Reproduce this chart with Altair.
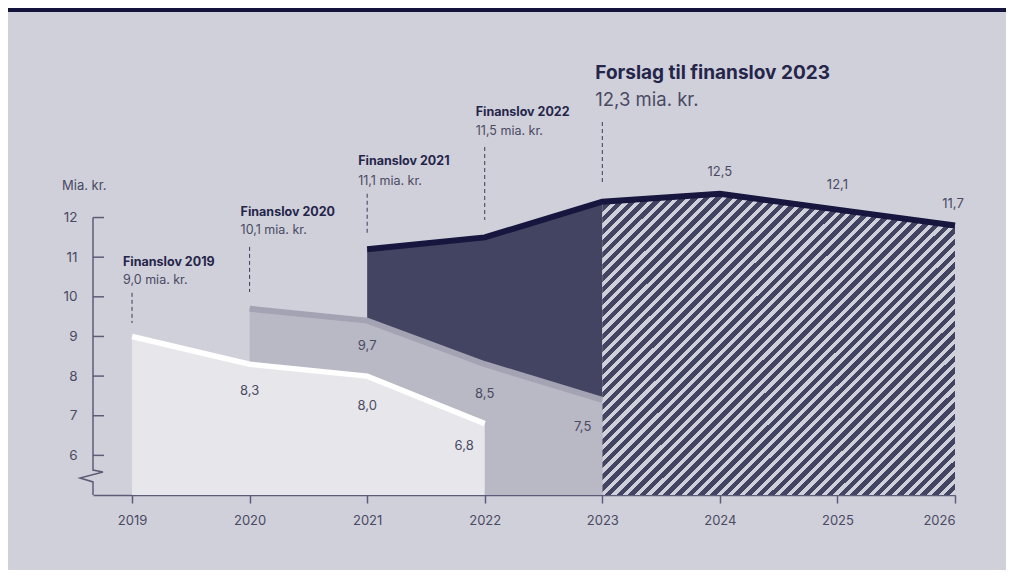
import altair as alt
import pandas as pd

# ---------------- data ----------------
years_fl2019 = [2019, 2020, 2021, 2022]
fl2019 = [9.0, 8.3, 8.0, 6.8]

years_fl2020 = [2020, 2021, 2022, 2023]
fl2020 = [9.7, 9.4, 8.3, 7.4]

years_fl2021 = [2021, 2022, 2023]
fl2021 = [11.2, 11.5, 12.4]

years_fl2023 = [2023, 2024, 2025, 2026]
fl2023 = [12.4, 12.6, 12.2, 11.8]

x_ticks = [2019, 2020, 2021, 2022, 2023, 2024, 2025, 2026]
y_ticks = [6, 7, 8, 9, 10, 11, 12]

# value labels
lab_year = [2020, 2021, 2021, 2022, 2024, 2025]
lab_pos = [7.62, 7.25, 8.76, 7.55, 13.16, 12.82]
lab_text = ["8,3", "8,0", "9,7", "8,5", "12,5", "12,1"]
lab_r_year = [2022, 2023]
lab_r_pos = [6.24, 6.72]
lab_r_text = ["6,8", "7,5"]
lab_end_year = [2026]
lab_end_pos = [12.34]
lab_end_text = ["11,7"]

# annotations
ann_year = [2019, 2020, 2021, 2022]
ann_title = ["Finanslov 2019", "Finanslov 2020", "Finanslov 2021", "Finanslov 2022"]
ann_amount = ["9,0 mia. kr.", "10,1 mia. kr.", "11,1 mia. kr.", "11,5 mia. kr."]
ann_title_pos = [10.88, 12.14, 13.43, 14.66]
ann_amount_pos = [10.42, 11.69, 12.92, 14.18]
ann_rule_top = [10.10, 11.26, 12.60, 13.78]
ann_rule_bot = [9.34, 10.12, 11.56, 11.94]

main_year = [2023]
main_title = ["Forslag til finanslov 2023"]
main_amount = ["12,3 mia. kr."]
main_title_pos = [15.65]
main_amount_pos = [14.97]
main_rule_top = [14.41]
main_rule_bot = [12.87]

unit_label = "Mia. kr."

# ---------------- scales ----------------
X0 = 2018.668
XMAX = 2026
PX_PER_YEAR = 862 / (XMAX - X0)
BASE = 5.0

BG = "#d0d0da"
INK = "#25254a"
SOFT = "#4a4a63"
AXC = "#5c5c78"
FONT = "Inter"

def X(field="year"):
    return alt.X(f"{field}:Q",
                 scale=alt.Scale(domain=[X0, XMAX], nice=False, zero=False),
                 axis=alt.Axis(values=x_ticks, format="d", title=None, grid=False,
                               domain=True, domainColor=AXC, domainWidth=1.5,
                               ticks=True, tickColor=AXC, tickWidth=1.5, tickSize=8,
                               labelPadding=11, labelFont=FONT, labelFontSize=13,
                               labelColor=SOFT))

def Y(field="value"):
    return alt.Y(f"{field}:Q",
                 scale=alt.Scale(domain=[BASE, 16], nice=False, zero=False),
                 axis=alt.Axis(values=y_ticks, title=None, grid=False, domain=False,
                               ticks=False, labelPadding=16, labelFont=FONT,
                               labelFontSize=13.5, labelColor=SOFT))

def df(years, values):
    return pd.DataFrame({"year": years, "value": values})

d19 = df(years_fl2019, fl2019)
d20 = df(years_fl2020, fl2020)
d21 = df(years_fl2021, fl2021)
d23 = df(years_fl2023, fl2023)
dtop = df(years_fl2021 + years_fl2023[1:], fl2021 + fl2023[1:])

def area(d, fill):
    return alt.Chart(d).mark_area(fill=fill, interpolate="linear").encode(
        x=X(), y=Y(), y2=alt.datum(BASE))

def line(d, color, w=6):
    return alt.Chart(d).mark_line(color=color, strokeWidth=w, interpolate="linear").encode(
        x=X(), y=Y())

# hatch gradient (diagonal stripes)
W = 352.0
H = (12.6 - BASE) * (436 / 11)
a = (W + H) * W / (W * W + H * H)
b = (W + H) * H / (W * W + H * H)
n = 56
frac = 0.56
dark = "#434362"
stops = []
for i in range(n):
    o0 = i / n
    o1 = (i + frac) / n
    o2 = (i + 1) / n
    stops += [alt.GradientStop(color=dark, offset=o0),
              alt.GradientStop(color=dark, offset=o1),
              alt.GradientStop(color=BG, offset=o1),
              alt.GradientStop(color=BG, offset=o2)]
hatch = alt.LinearGradient(gradient="linear", stops=stops, x1=0, y1=0, x2=a, y2=b)

a21 = area(d21, "#434362")
a23 = alt.Chart(d23).mark_area(fill=hatch, interpolate="linear").encode(
    x=X(), y=Y(), y2=alt.datum(BASE))
a20 = area(d20, "#b9b9c6")
a19 = area(d19, "#e6e6eb")

l_top = line(dtop, "#16163f", 6)
l20 = line(d20, "#a3a3b4", 6)
l19 = line(d19, "#ffffff", 5.5)

# y axis line with break
zz = pd.DataFrame({
    "year": [X0, X0, X0 + 10 / PX_PER_YEAR, X0 - 13 / PX_PER_YEAR, X0, X0],
    "value": [12, 5.63, 5.58, 5.43, 5.33, BASE],
    "o": [0, 1, 2, 3, 4, 5],
})
yline = alt.Chart(zz).mark_line(color=AXC, strokeWidth=1.5, strokeJoin="miter").encode(
    x=X(), y=Y(), order="o:Q")

yt = pd.DataFrame({"year": [X0] * len(y_ticks), "year2": [X0 + 11 / PX_PER_YEAR] * len(y_ticks),
                   "value": y_ticks})
yticks = alt.Chart(yt).mark_rule(color=AXC, strokeWidth=1.5).encode(
    x=X(), x2="year2:Q", y=Y())

unit = alt.Chart(pd.DataFrame({"year": [X0], "value": [12.795], "t": [unit_label]})).mark_text(
    align="left", baseline="middle", dx=-31, font=FONT, fontSize=13, color=SOFT).encode(
    x=X(), y=Y(), text="t:N")

# value labels
vl = alt.Chart(pd.DataFrame({"year": lab_year, "value": lab_pos, "t": lab_text})).mark_text(
    align="center", baseline="middle", font=FONT, fontSize=13, color=SOFT).encode(
    x=X(), y=Y(), text="t:N")
vlr = alt.Chart(pd.DataFrame({"year": lab_r_year, "value": lab_r_pos, "t": lab_r_text})).mark_text(
    align="right", baseline="middle", dx=-11, font=FONT, fontSize=13, color=SOFT).encode(
    x=X(), y=Y(), text="t:N")
vle = alt.Chart(pd.DataFrame({"year": lab_end_year, "value": lab_end_pos, "t": lab_end_text})).mark_text(
    align="center", baseline="middle", dx=-2, font=FONT, fontSize=13, color=SOFT).encode(
    x=X(), y=Y(), text="t:N")

# annotations
ann = pd.DataFrame({"year": ann_year, "title": ann_title, "amount": ann_amount,
                    "tp": ann_title_pos, "ap": ann_amount_pos,
                    "r1": ann_rule_top, "r2": ann_rule_bot})
ann_rules = alt.Chart(ann).mark_rule(color="#3a3a58", strokeWidth=1, strokeDash=[4, 3]).encode(
    x=X(), y=Y("r1"), y2="r2:Q")
ann_t = alt.Chart(ann).mark_text(align="left", baseline="middle", dx=-9, font=FONT,
                                 fontSize=12.5, fontWeight="bold", color=INK).encode(
    x=X(), y=Y("tp"), text="title:N")
ann_a = alt.Chart(ann).mark_text(align="left", baseline="middle", dx=-9, font=FONT,
                                 fontSize=12.5, color=SOFT).encode(
    x=X(), y=Y("ap"), text="amount:N")

main = pd.DataFrame({"year": main_year, "title": main_title, "amount": main_amount,
                     "tp": main_title_pos, "ap": main_amount_pos,
                     "r1": main_rule_top, "r2": main_rule_bot})
main_rule = alt.Chart(main).mark_rule(color="#3a3a58", strokeWidth=1, strokeDash=[4, 3]).encode(
    x=X(), y=Y("r1"), y2="r2:Q")
main_t = alt.Chart(main).mark_text(align="left", baseline="middle", dx=-7, font=FONT,
                                   fontSize=19, fontWeight="bold", color=INK).encode(
    x=X(), y=Y("tp"), text="title:N")
main_a = alt.Chart(main).mark_text(align="left", baseline="middle", dx=-7, font=FONT,
                                   fontSize=18.5, color=SOFT).encode(
    x=X(), y=Y("ap"), text="amount:N")

# top decorative bar
bar = alt.Chart(pd.DataFrame({"k": [0]})).mark_rect(color="#14143c").encode(
    x=alt.value(-85), x2=alt.value(913), y=alt.value(-51), y2=alt.value(-47))

chart = alt.layer(
    bar, a21, a23, a20, a19, l_top, l20, l19,
    yline, yticks, unit, vl, vlr, vle,
    ann_rules, ann_t, ann_a, main_rule, main_t, main_a
).properties(
    width=862, height=436,
    autosize=alt.AutoSizeParams(type="none"),
    padding={"left": 85, "top": 51, "right": 51, "bottom": 75},
    background=BG,
).configure_view(stroke=None)

chart.save("out.html", embed_options={"renderer": "svg", "actions": False})
